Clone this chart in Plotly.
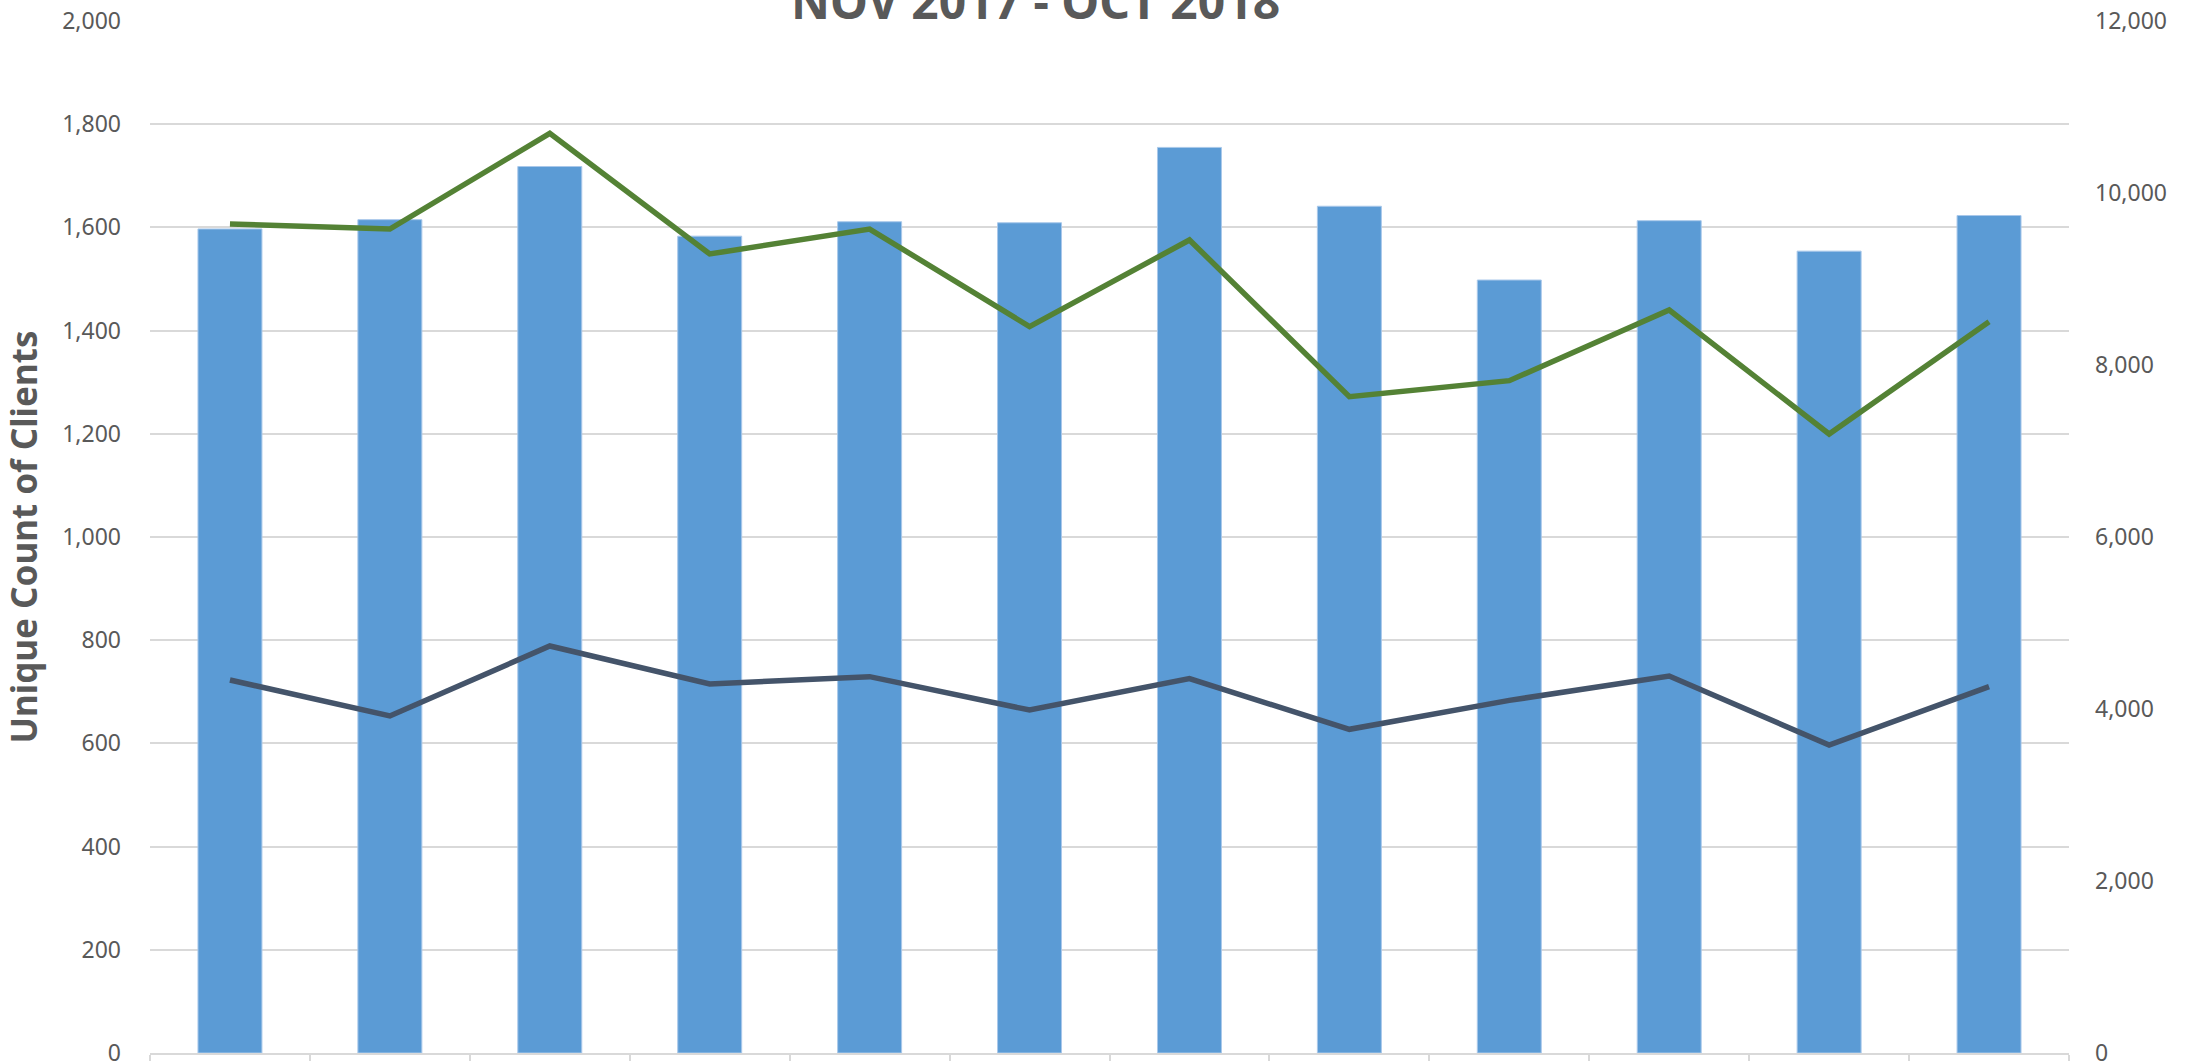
import plotly.graph_objects as go

months = ["Nov 2017", "Dec 2017", "Jan 2018", "Feb 2018", "Mar 2018", "Apr 2018",
          "May 2018", "Jun 2018", "Jul 2018", "Aug 2018", "Sep 2018", "Oct 2018"]
unique_clients = [1597, 1615, 1718, 1583, 1611, 1609, 1755, 1641, 1498, 1613, 1554, 1623]
green_series = [9640, 9581, 10694, 9291, 9581, 8446, 9454, 7632, 7818, 8640, 7198, 8504]
dark_series = [4337, 3919, 4733, 4291, 4376, 3988, 4353, 3764, 4100, 4384, 3581, 4260]

left_ticks = list(range(0, 2001, 200))
right_ticks = list(range(0, 12001, 2000))

FONT = "Noto Sans"
GREY = "#595959"

fig = go.Figure()
fig.add_trace(go.Bar(x=months, y=unique_clients, name="Unique Count of Clients",
                     marker=dict(color="#5B9BD5", line=dict(color="#A9C8EA", width=1)),
                     yaxis="y"))
fig.add_trace(go.Scatter(x=months, y=green_series, mode="lines", name="Series 2",
                         line=dict(color="#548235", width=5.5), yaxis="y2"))
fig.add_trace(go.Scatter(x=months, y=dark_series, mode="lines", name="Series 3",
                         line=dict(color="#44546A", width=5.5), yaxis="y2"))

fig.update_layout(
    width=2207, height=1061,
    margin=dict(l=150, r=138, t=21, b=8, autoexpand=False),
    paper_bgcolor="white", plot_bgcolor="white",
    showlegend=False,
    bargap=0.6,
    font=dict(family=FONT, color=GREY, size=23),
    xaxis=dict(type="category", showticklabels=False, tickson="boundaries",
               ticks="outside", ticklen=20, tickwidth=2, tickcolor="#D9D9D9",
               showline=True, linecolor="#D9D9D9", linewidth=2,
               showgrid=False, zeroline=False),
    yaxis=dict(range=[0, 2000], tickvals=left_ticks, tickformat=",d",
               showgrid=True, gridcolor="#D9D9D9", gridwidth=2,
               zeroline=False, showline=False, ticks="",
               ticklabelstandoff=28, ticklabeloverflow="allow",
               tickfont=dict(family=FONT, size=23, color=GREY),
               title=dict(text="<b>Unique Count of Clients</b>",
                          font=dict(family=FONT, size=35, color=GREY),
                          standoff=14)),
    yaxis2=dict(range=[0, 12000], tickvals=right_ticks, tickformat=",d",
                overlaying="y", side="right", showgrid=False, zeroline=False,
                showline=False, ticks="", ticklabelstandoff=25,
                ticklabeloverflow="allow",
                tickfont=dict(family=FONT, size=23, color=GREY)),
    annotations=[dict(text="<b>NOV 2017 - OCT 2018</b>", xref="paper", yref="paper",
                      x=0.4612, y=1, xanchor="center", yanchor="bottom", yshift=-14,
                      showarrow=False, font=dict(family=FONT, size=48, color=GREY))],
)

fig.write_html("out.html", config={"displayModeBar": False},
               post_script="document.body.style.margin='0';document.body.style.overflow='hidden';")
